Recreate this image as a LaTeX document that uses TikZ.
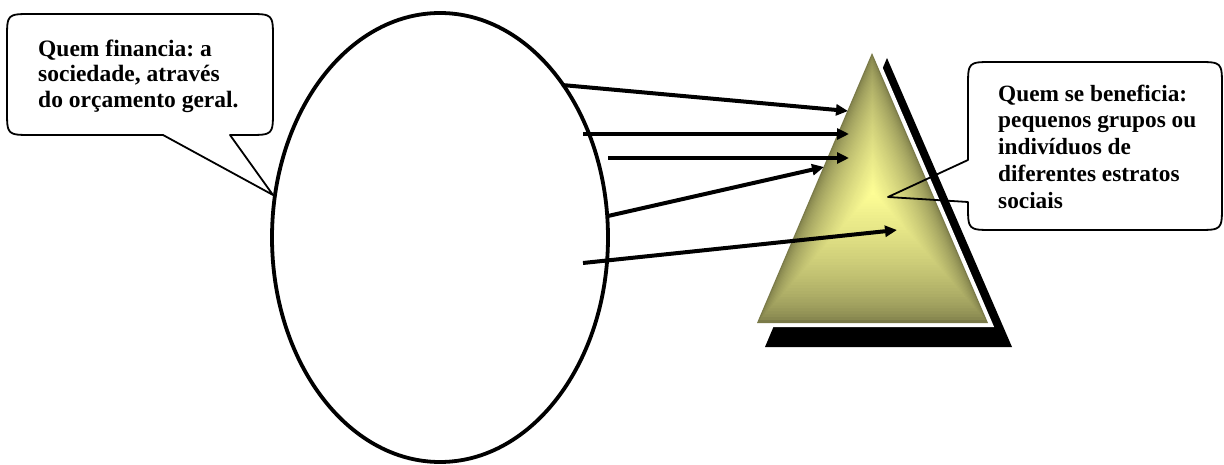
\documentclass[tikz,border=0pt]{standalone}
\usepackage{fontspec}
\setmainfont{Liberation Serif}
\usepackage{xcolor}
\usetikzlibrary{arrows.meta, calc, shapes.geometric}
\definecolor{triedge}{RGB}{122,122,72}
\definecolor{tricenter}{RGB}{255,255,150}
\frenchspacing

\begin{document}
\begin{tikzpicture}[x=1pt, y=-1pt,
        callout/.style={draw, line width=1.8pt, line join=round},
        flow/.style={-{Triangle[length=12pt, width=11pt]}, line width=4pt},
        note/.style={align=left, inner sep=0pt, anchor=north west, font=\bfseries},
      ]
      \useasboundingbox (0,0) rectangle (1224,465);

      % the ellipse
      \node[draw, ellipse, line width=3.8pt, minimum width=336pt, minimum height=449pt,
            inner sep=0pt, outer sep=0pt] (sociedade) at (440,237.5) {};

      % pyramid: shadow, white gap, graded fill
      \coordinate (ta) at (872,53);
      \coordinate (tl) at (757,323);
      \coordinate (tr) at (988,323);
      \coordinate (tc) at (873,192);
      \fill[black] (887,58) -- (1012,347) -- (765,347) -- cycle;
      \draw[white, line width=8pt, line join=miter, fill=white] (ta) -- (tl) -- (tr) -- cycle;
      \foreach \i in {0,...,44} {
        \pgfmathsetmacro\s{1-\i/45}
        \pgfmathsetmacro\p{100*(\i/45)^0.6}
        \fill[tricenter!\p!triedge] ($(tc)!\s!(ta)$) -- ($(tc)!\s!(tl)$) -- ($(tc)!\s!(tr)$) -- cycle;
      }

      % arrows into the pyramid
      \coordinate (s1) at (562,85);   \coordinate (e1) at (848,111);
      \coordinate (s2) at (583,134);  \coordinate (e2) at (849,134);
      \coordinate (s3) at (608,158);  \coordinate (e3) at (849,158);
      \coordinate (s4) at (608,216);  \coordinate (e4) at (824,167);
      \coordinate (s5) at (583,263);  \coordinate (e5) at (897,230);
      \foreach \k in {1,...,5}
        \draw[flow] (s\k) -- (e\k);

      % left callout
      \draw[callout] (7,39) .. controls (7,14) .. (32,14) -- (248,14)
        .. controls (273,14) .. (273,39) -- (273,110) .. controls (273,135) .. (248,135)
        -- (230,135) -- (273,195) -- (163,135) -- (32,135)
        .. controls (7,135) .. (7,110) -- cycle;
      \node[note, font=\fontsize{23.5}{25.5}\selectfont\bfseries] (financia) at (38,39.5)
        {Quem financia: a\\sociedade, através\\do orçamento geral.};

      % right callout
      \draw[callout] (993,62) -- (1197,62) .. controls (1222,62) .. (1222,87)
        -- (1222,205) .. controls (1222,230) .. (1197,230) -- (993,230)
        .. controls (968,230) .. (968,205) -- (968,202) -- (888,197) -- (968,160)
        -- (968,87) .. controls (968,62) .. (993,62) -- cycle;
      \node[note, font=\fontsize{23.3}{26.8}\selectfont\bfseries] (beneficia) at (998,84.5)
        {Quem se beneficia:\\pequenos grupos ou\\indivíduos de\\diferentes estratos\\sociais};
    \end{tikzpicture}
\end{document}
